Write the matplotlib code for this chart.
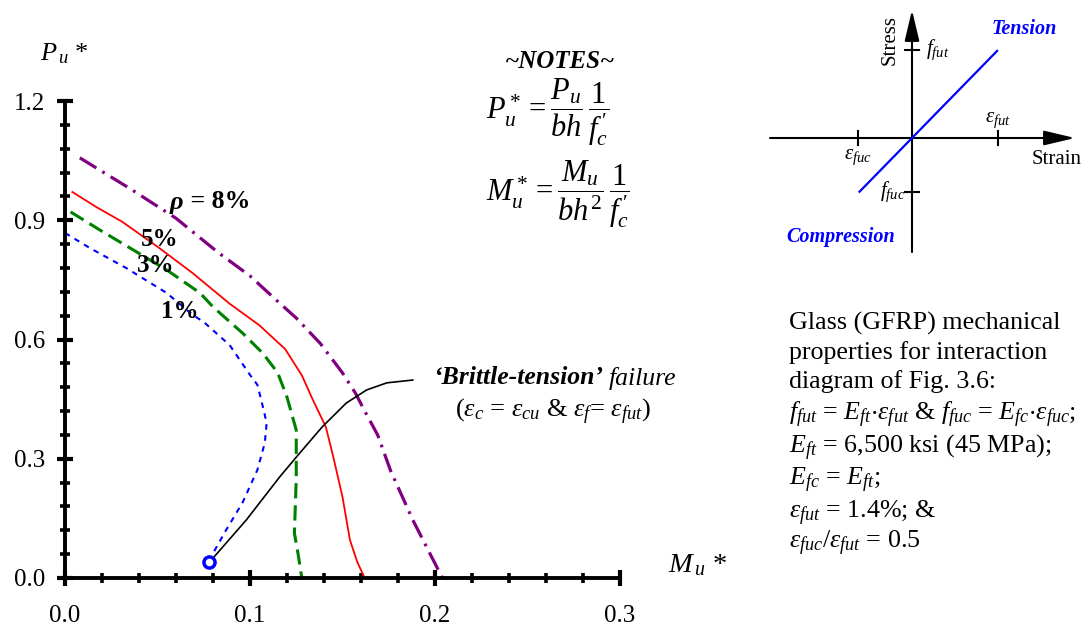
import matplotlib
matplotlib.use("Agg")
import matplotlib.pyplot as plt
from matplotlib.patches import FancyArrowPatch
import numpy as np

plt.rcParams['font.family'] = ['Liberation Serif', 'DejaVu Serif']
plt.rcParams['mathtext.fontset'] = 'custom'
plt.rcParams['mathtext.rm'] = 'Liberation Serif'
plt.rcParams['mathtext.it'] = 'Liberation Serif:italic'
plt.rcParams['mathtext.bf'] = 'Liberation Serif:bold'
plt.rcParams['mathtext.fallback'] = 'stix'
plt.rcParams['lines.scale_dashes'] = False

# ---------------- data ----------------
m_8 = [0.008, 0.035, 0.060, 0.083, 0.100, 0.114, 0.125, 0.138, 0.150, 0.157, 0.162, 0.169, 0.176, 0.188, 0.204]
p_8 = [1.057, 0.980, 0.905, 0.818, 0.760, 0.700, 0.654, 0.590, 0.516, 0.465, 0.420, 0.360, 0.270, 0.146, 0.000]

m_5 = [0.004, 0.017, 0.031, 0.051, 0.069, 0.089, 0.105, 0.119, 0.128, 0.134, 0.141, 0.145, 0.150, 0.154, 0.158, 0.162]
p_5 = [0.971, 0.933, 0.896, 0.830, 0.767, 0.690, 0.636, 0.576, 0.510, 0.448, 0.380, 0.305, 0.204, 0.096, 0.040, 0.000]

m_3 = [0.003, 0.019, 0.037, 0.055, 0.073, 0.080, 0.096, 0.107, 0.115, 0.120, 0.125, 0.125, 0.124, 0.126, 0.128]
p_3 = [0.921, 0.875, 0.825, 0.775, 0.717, 0.682, 0.616, 0.565, 0.516, 0.455, 0.372, 0.250, 0.113, 0.060, 0.000]

m_1 = [0.000, 0.0135, 0.033, 0.055, 0.069, 0.075, 0.089, 0.100, 0.104, 0.107, 0.109, 0.108, 0.104, 0.096, 0.087, 0.080, 0.078]
p_1 = [0.868, 0.830, 0.780, 0.717, 0.662, 0.644, 0.586, 0.511, 0.486, 0.430, 0.390, 0.340, 0.272, 0.190, 0.120, 0.062, 0.040]

m_bt = [0.078, 0.080, 0.098, 0.116, 0.125, 0.139, 0.152, 0.163, 0.174, 0.188]
p_bt = [0.040, 0.050, 0.146, 0.254, 0.304, 0.380, 0.440, 0.473, 0.491, 0.498]

brittle_point = (0.078, 0.040)

x_ticks = [0.0, 0.1, 0.2, 0.3]
y_ticks = [0.0, 0.3, 0.6, 0.9, 1.2]
x_tick_labels = ['0.0', '0.1', '0.2', '0.3']
y_tick_labels = ['0.0', '0.3', '0.6', '0.9', '1.2']

# inset (schematic stress-strain, normalised units)
inset_strain = [-0.61, 0.99]
inset_stress = [-0.61, 0.99]
eps_fut, eps_fuc = 1.0, -0.63
f_fut, f_fuc = 1.0, -0.61

notes_lines = [
    'Glass (GFRP) mechanical',
    'properties for interaction',
    'diagram of Fig. 3.6:',
    r'$f_{fut}$ = $E_{ft}$$\cdot$$\varepsilon_{fut}$ & $f_{fuc}$ = $E_{fc}$$\cdot$$\varepsilon_{fuc}$;',
    r'$E_{ft}$ = 6,500 ksi (45 MPa);',
    r'$E_{fc}$ = $E_{ft}$;',
    r'$\varepsilon_{fut}$ = 1.4%; &',
    r'$\varepsilon_{fuc}$/$\varepsilon_{fut}$ = 0.5',
]

# ---------------- figure ----------------
W, H = 1084, 630
fig = plt.figure(figsize=(W / 100, H / 100), dpi=100)


def fp(px, py):
    return (px / W, 1 - py / H)


ax = fig.add_axes([65 / W, 1 - 578 / H, 555 / W, 477 / H])
ax.set_xlim(0, 0.3)
ax.set_ylim(0, 1.2)
for s in ['top', 'right']:
    ax.spines[s].set_visible(False)
for s in ['left', 'bottom']:
    ax.spines[s].set_linewidth(2.8)
ax.set_xticks(x_ticks)
ax.set_xticklabels(x_tick_labels)
ax.set_yticks(y_ticks)
ax.set_yticklabels(y_tick_labels)
ax.set_xticks(np.arange(0, 0.3001, 0.02), minor=True)
ax.set_yticks(np.arange(0, 1.2001, 0.06), minor=True)
ax.tick_params(which='major', direction='inout', length=11, width=3, labelsize=18)
ax.tick_params(which='minor', direction='inout', length=7, width=2.6)
ax.tick_params(axis='x', which='major', pad=14)
ax.tick_params(axis='y', which='major', pad=9)

l8, = ax.plot(m_8, p_8, color='#800080', lw=2.3, clip_on=False)
l8.set_dashes([14, 5, 2, 5])
ax.plot(m_5, p_5, color='red', lw=1.3, clip_on=False)
l3, = ax.plot(m_3, p_3, color='#008000', lw=2.2, clip_on=False)
l3.set_dashes([11, 5])
l1, = ax.plot(m_1, p_1, color='blue', lw=1.5, clip_on=False)
l1.set_dashes([4, 4])
ax.plot(m_bt, p_bt, color='black', lw=1.2, clip_on=False)
ax.plot([brittle_point[0]], [brittle_point[1]], 'o', mfc='white', mec='blue',
        mew=2.5, ms=8, clip_on=False, zorder=5)

rho = fig.text(*fp(170, 202), 'ρ', fontsize=19, fontweight='bold', style='italic',
               ha='left', va='center')
fig.canvas.draw()
rb = rho.get_window_extent()
fig.text(rb.x1 / W, fp(0, 202)[1], ' = 8%', fontsize=18.5, fontweight='bold',
         ha='left', va='center')
ax.text(0.051, 0.852, '5%', fontsize=18, fontweight='bold', ha='center', va='center')
ax.text(0.049, 0.785, '3%', fontsize=18, fontweight='bold', ha='center', va='center')
ax.text(0.062, 0.670, '1%', fontsize=18, fontweight='bold', ha='center', va='center')

# axis titles
fig.text(*fp(40, 54), r'$P_{\,u}$ *', fontsize=19, ha='left', va='center')
fig.text(*fp(668, 565), r'$M_{\,u}$ *', fontsize=20.5, ha='left', va='center')

# brittle-tension annotation
t1 = fig.text(*fp(433, 378), '‘Brittle-tension’', fontsize=18.5, fontweight='bold',
              style='italic', ha='left', va='center')
fig.canvas.draw()
bb = t1.get_window_extent()
fig.text(bb.x1 / W + 6 / W, fp(0, 378)[1], 'failure', fontsize=18.5, style='italic',
         ha='left', va='center')
fig.text(*fp(553, 412), r'($\varepsilon_c$ = $\varepsilon_{cu}$ & $\varepsilon_f$= $\varepsilon_{fut}$)',
         fontsize=19, ha='center', va='center')

# NOTES
fig.text(*fp(560, 61), '~NOTES~', fontsize=18, fontweight='bold', style='italic',
         ha='center', va='center')
fig.text(*fp(486, 112), r"$P_u^* = \dfrac{P_u}{bh}\,\dfrac{1}{f_c^{\,\prime}}$",
         fontsize=22, ha='left', va='center')
fig.text(*fp(486, 194), r"$M_u^* = \dfrac{M_u}{bh^2}\,\dfrac{1}{f_c^{\,\prime}}$",
         fontsize=22, ha='left', va='center')

# right text block
line_y = [323, 353, 382, 415, 448, 480, 513, 543]
for txt, yy in zip(notes_lines, line_y):
    fig.text(*fp(789, yy), txt, fontsize=18.7, ha='left', va='center')

# ---------------- inset ----------------
ox, oy = 912, 138
sx, sy = 86, 88
ai = fig.add_axes([770 / W, 1 - 252 / H, (1075 - 770) / W, (252 - 10) / H])
ai.set_xlim((770 - ox) / sx, (1075 - ox) / sx)
ai.set_ylim(-(252 - oy) / sy, (oy - 10) / sy)
ai.axis('off')
x0, x1 = ai.get_xlim()
y0, y1 = ai.get_ylim()
for a, b in [((x0, 0), (x1, 0)), ((0, y0), (0, y1))]:
    ai.add_patch(FancyArrowPatch(a, b, arrowstyle='-|>,head_length=1.9,head_width=0.45',
                                 mutation_scale=10, lw=1.5, color='black',
                                 shrinkA=0, shrinkB=0, clip_on=False))
tk = 0.085
for xv in [eps_fuc, eps_fut]:
    ai.plot([xv, xv], [-tk, tk], color='black', lw=1.5)
for yv in [f_fuc, f_fut]:
    ai.plot([-tk, tk], [yv, yv], color='black', lw=1.5)
ai.plot(inset_strain, inset_stress, color='blue', lw=1.6)

ai.text(eps_fut, 0.2, r'$\varepsilon_{fut}$', fontsize=15, ha='center', va='center')
ai.text(eps_fuc, -0.22, r'$\varepsilon_{fuc}$', fontsize=15, ha='center', va='center')
ai.text(0.16, f_fut, r'$f_{fut}$', fontsize=15, ha='left', va='center')
ai.text(-0.08, f_fuc, r'$f_{fuc}$', fontsize=15, ha='right', va='center')
fig.text(*fp(1057, 159), 'Strain', fontsize=15, ha='center', va='center')
fig.text(*fp(890, 40), 'Stress', fontsize=15, ha='center', va='center', rotation=90)
fig.text(*fp(1024, 29), 'Tension', fontsize=14.5, fontweight='bold', style='italic',
         color='blue', ha='center', va='center')
fig.text(*fp(841, 237), 'Compression', fontsize=14.5, fontweight='bold', style='italic',
         color='blue', ha='center', va='center')

fig.savefig('out.png', dpi=100)
